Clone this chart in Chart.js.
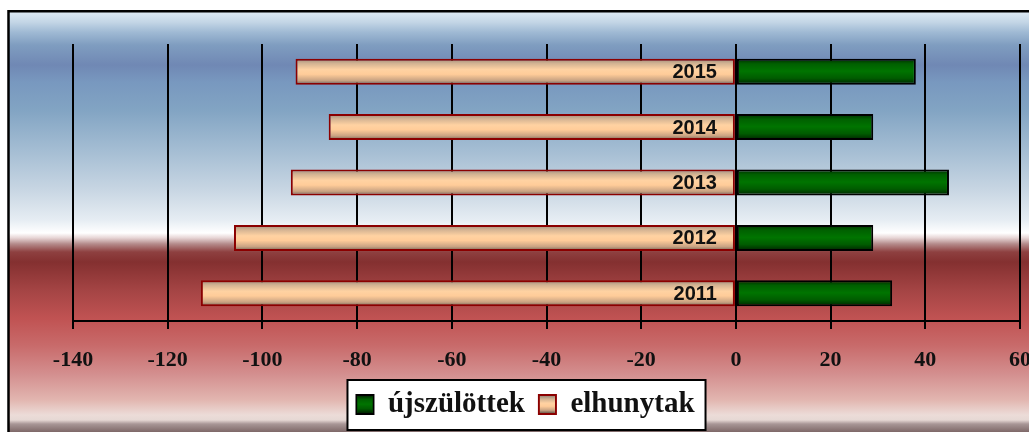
<!DOCTYPE html>
<html>
<head>
<meta charset="utf-8">
<script src="https://cdn.jsdelivr.net/npm/chart.js@4.4.1/dist/chart.umd.min.js"></script>
<style>
  html, body { margin: 0; padding: 0; background: #ffffff; overflow: hidden; }
  canvas { display: block; }
</style>
</head>
<body>
<canvas id="chart" width="1029" height="432"></canvas>
<script>
// Yearly births and deaths (deaths plotted to the left of zero)
const years = ['2011', '2012', '2013', '2014', '2015'];
const births = [33, 29, 45, 29, 38];
const deaths = [-113, -106, -94, -86, -93];
const tickValues = [-140, -120, -100, -80, -60, -40, -20, 0, 20, 40, 60];
const seriesNames = ['újszülöttek', 'elhunytak'];

const GREEN = '#007400';
const PEACH = '#ffcc99';

// Page background: framed panel, blue sky fading into a red band
const backdrop = {
  id: 'backdrop',
  afterLayout(chart) {
    // legend sits a little left of the plot centre
    const lg = chart.legend;
    if (lg) { lg.left -= 21; lg.right -= 21; }
  },
  beforeDraw(chart) {
    const ctx = chart.ctx;
    const W = chart.width, H = chart.height;
    ctx.save();
    ctx.fillStyle = '#ffffff';
    ctx.fillRect(0, 0, W, H);
    const g = ctx.createLinearGradient(0, 12, 0, H);
    const stops = [
      [12, '#dde9f3'], [22, '#c4d6e6'], [32, '#a0bad4'], [45, '#7f9dc0'],
      [65, '#7088b4'], [82, '#7898bf'], [110, '#82a4c3'], [150, '#a4bdd3'],
      [190, '#c8d6e3'], [220, '#e6edf3'], [233, '#ffffff'], [238, '#e6d4d4'],
      [244, '#b48a8a'], [252, '#8e4040'], [262, '#843030'], [290, '#a44444'],
      [318, '#c05252'], [345, '#c86a6a'], [375, '#d49090'], [400, '#e2b6b0'],
      [415, '#ecdcd8'], [420, '#e6d8d4'], [424, '#a89696'], [432, '#7e6868']
    ];
    stops.forEach(([y, c]) => g.addColorStop(Math.min(1, Math.max(0, (y - 12) / (H - 12))), c));
    ctx.fillStyle = g;
    ctx.fillRect(9, 12, W, H);
    ctx.strokeStyle = '#000000';
    ctx.lineWidth = 2.5;
    ctx.beginPath();
    ctx.moveTo(8.5, H + 5);
    ctx.lineTo(8.5, 11.2);
    ctx.lineTo(W + 5, 11.2);
    ctx.stroke();

    // white legend panel
    const lg = chart.legend;
    if (lg && lg.legendHitBoxes && lg.legendHitBoxes.length) {
      const boxes = lg.legendHitBoxes;
      const l = Math.min(...boxes.map(b => b.left));
      const r = Math.max(...boxes.map(b => b.left + b.width));
      const t = Math.min(...boxes.map(b => b.top));
      const b = Math.max(...boxes.map(bb => bb.top + bb.height));
      ctx.fillStyle = '#ffffff';
      ctx.fillRect(l - 9, t - 10, r - l + 20, b - t + 21);
      ctx.lineWidth = 2;
      ctx.strokeStyle = '#000000';
      ctx.strokeRect(l - 9, t - 10, r - l + 20, b - t + 21);
    }
    ctx.restore();
  },
  afterDraw(chart) {
    // shade the legend swatches like the bars
    const lg = chart.legend;
    if (!lg || !lg.legendHitBoxes) return;
    const ctx = chart.ctx;
    const o = lg.options.labels;
    lg.legendHitBoxes.forEach((hb, i) => {
      const ds = chart.data.datasets[i];
      const top = hb.top + (hb.height - o.boxHeight) / 2;
      const bw = ds.borderWidth;
      const g = barGradient(ctx, top + bw / 2, top + o.boxHeight - bw / 2, ds.shade);
      ctx.save();
      ctx.fillStyle = g;
      ctx.fillRect(hb.left + bw / 2, top + bw / 2, o.boxWidth - bw, o.boxHeight - bw);
      ctx.restore();
    });
  }
};

// Cylinder-like vertical shading on every bar
function barGradient(ctx, top, bottom, kind) {
  const g = ctx.createLinearGradient(0, top, 0, bottom);
  if (kind === 'green') {
    g.addColorStop(0, '#002c00');
    g.addColorStop(0.2, '#006000');
    g.addColorStop(0.48, GREEN);
    g.addColorStop(0.75, '#005c00');
    g.addColorStop(1, '#002200');
  } else {
    g.addColorStop(0, '#9c8c7c');
    g.addColorStop(0.18, '#d2b292');
    g.addColorStop(0.42, '#ffd2a2');
    g.addColorStop(0.6, PEACH);
    g.addColorStop(0.84, '#c8a282');
    g.addColorStop(1, '#6e5e50');
  }
  return g;
}

const shading = {
  id: 'shading',
  beforeDatasetsDraw(chart) {
    chart.data.datasets.forEach((ds, di) => {
      const meta = chart.getDatasetMeta(di);
      meta.data.forEach(el => {
        const p = el.getProps(['y', 'height'], true);
        const g = barGradient(chart.ctx, p.y - p.height / 2, p.y + p.height / 2, ds.shade);
        el.options = Object.assign({}, el.options, { backgroundColor: g });
      });
    });
  },
  afterDatasetsDraw(chart) {
    // year names written inside the bars, just left of zero
    const ctx = chart.ctx;
    const xs = chart.scales.x, ys = chart.scales.y;
    ctx.save();
    ctx.font = 'bold 20px "Liberation Sans", Arial, sans-serif';
    ctx.fillStyle = '#111111';
    ctx.textAlign = 'right';
    ctx.textBaseline = 'middle';
    years.forEach((yr, i) => {
      ctx.fillText(yr, xs.getPixelForValue(0) - 19, ys.getPixelForValue(i) + 1);
    });
    ctx.restore();
  }
};

new Chart(document.getElementById('chart'), {
  type: 'bar',
  data: {
    labels: years,
    datasets: [
      {
        label: seriesNames[0],
        data: births,
        shade: 'green',
        backgroundColor: GREEN,
        borderColor: '#000000',
        borderWidth: 2,
        borderSkipped: false,
        grouped: false,
        barPercentage: 0.47,
        categoryPercentage: 1
      },
      {
        label: seriesNames[1],
        data: deaths,
        shade: 'peach',
        backgroundColor: PEACH,
        borderColor: '#8b0000',
        borderWidth: 2,
        borderSkipped: false,
        grouped: false,
        barPercentage: 0.47,
        categoryPercentage: 1
      }
    ]
  },
  options: {
    indexAxis: 'y',
    responsive: false,
    animation: false,
    devicePixelRatio: 1,
    layout: { padding: { top: 44, left: 73, right: 9, bottom: 3 } },
    scales: {
      x: {
        type: 'linear',
        min: -140,
        max: 60,
        afterBuildTicks(scale) { scale.ticks = tickValues.map(v => ({ value: v })); },
        afterFit(scale) { scale.height = 432 - 3 - scale.chart.legend.height - 321; scale.paddingRight = 0; },
        grid: {
          color: '#000000',
          lineWidth: 2,
          tickLength: 8,
          tickColor: '#000000',
          drawTicks: true
        },
        border: { display: true, color: '#000000', width: 2 },
        ticks: {
          padding: 18,
          color: '#111111',
          font: { family: '"Liberation Serif", "Times New Roman", serif', weight: 'bold', size: 22 }
        }
      },
      y: {
        type: 'category',
        reverse: true,
        display: false,
        offset: true
      }
    },
    plugins: {
      legend: {
        display: true,
        position: 'bottom',
        labels: {
          color: '#111111',
          boxWidth: 17,
          boxHeight: 19,
          padding: 14,
          font: { family: '"Liberation Serif", "Times New Roman", serif', weight: 'bold', size: 29 }
        }
      },
      tooltip: { enabled: false },
      title: { display: false }
    }
  },
  plugins: [backdrop, shading]
});
</script>
</body>
</html>
